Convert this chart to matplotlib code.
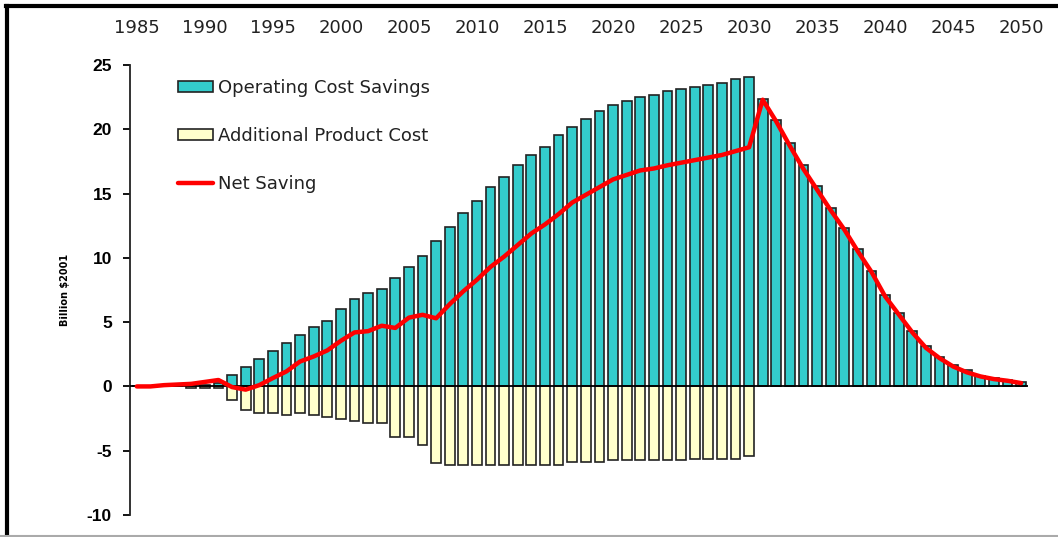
import matplotlib
matplotlib.use('Agg')
import matplotlib.pyplot as plt
from matplotlib.lines import Line2D

plt.rcParams['axes.unicode_minus'] = False

years = list(range(1985, 2051))

# operating cost savings, billion $2001
savings = [0, 0, 0, 0, 0.1, 0.15, 0.3, 0.91, 1.55, 2.15,
           2.77, 3.37, 4.02, 4.61, 5.1, 6.01, 6.79, 7.3, 7.57, 8.47,
           9.28, 10.18, 11.35, 12.4, 13.5, 14.4, 15.5, 16.3, 17.2, 18.0,
           18.65, 19.55, 20.2, 20.8, 21.4, 21.9, 22.2, 22.55, 22.7, 23.0,
           23.13, 23.3, 23.45, 23.6, 23.9, 24.1, 22.35, 20.7, 18.9, 17.2,
           15.6, 13.9, 12.3, 10.7, 9.0, 7.1, 5.7, 4.3, 3.15, 2.3,
           1.7, 1.25, 0.85, 0.62, 0.48, 0.33]

# additional product cost (negative)
prodcost = [0, 0, 0, 0, -0.15, -0.15, -0.15, -1.03, -1.81, -2.07,
            -2.07, -2.25, -2.07, -2.2, -2.38, -2.54, -2.71, -2.85, -2.85, -3.96,
            -3.96, -4.58, -5.96, -6.14, -6.14, -6.14, -6.14, -6.14, -6.14, -6.14,
            -6.14, -6.14, -5.9, -5.9, -5.9, -5.75, -5.75, -5.75, -5.75, -5.75,
            -5.75, -5.62, -5.62, -5.62, -5.62, -5.44, 0, 0, 0, 0,
            0, 0, 0, 0, 0, 0, 0, 0, 0, 0,
            0, 0, 0, 0, 0, 0]

net = [0, 0, 0.1, 0.15, 0.2, 0.35, 0.5, -0.05, -0.25, 0.1,
       0.65, 1.17, 1.94, 2.33, 2.8, 3.55, 4.2, 4.3, 4.72, 4.55,
       5.35, 5.57, 5.3, 6.4, 7.4, 8.3, 9.3, 10.1, 11.0, 11.9,
       12.6, 13.4, 14.3, 14.9, 15.5, 16.1, 16.45, 16.8, 16.95, 17.2,
       17.4, 17.6, 17.8, 18.0, 18.3, 18.6, 22.3, 20.6, 18.7, 16.9,
       15.3, 13.7, 12.2, 10.5, 8.9, 7.0, 5.6, 4.2, 3.0, 2.2,
       1.55, 1.1, 0.78, 0.57, 0.44, 0.26]

xlabels = ['1985', '1990', '1995', '2000', '2005', '2010', '2015',
           '2020', '2025', '2030', '2035', '2040', '2045', '2050']

fig = plt.figure(figsize=(10.58, 5.37), dpi=100)
ax = fig.add_axes([130 / 1058., 1 - 515 / 537., 898 / 1058., 450 / 537.])

b1 = ax.bar(years, savings, width=0.72, color='#33CCCC', edgecolor='#222222',
            linewidth=1.2, label='Operating Cost Savings', zorder=2)
b2 = ax.bar(years, prodcost, width=0.72, color='#FFFFCC', edgecolor='#222222',
            linewidth=1.2, label='Additional Product Cost', zorder=2)
ax.axhline(0, color='black', linewidth=1.3, zorder=3)
l1, = ax.plot(years, net, color='#FF0000', linewidth=3.2, label='Net Saving',
              zorder=4, solid_capstyle='round')

ax.set_xlim(1984.5, 2050.5)
ax.set_ylim(-10, 25)
ax.set_yticks([-10, -5, 0, 5, 10, 15, 20, 25])
ax.set_xticks(list(range(1985, 2051, 5)))
ax.set_xticklabels(xlabels)
ax.xaxis.tick_top()
ax.tick_params(axis='x', length=0, pad=20, labelsize=13, colors='#222222')
ax.tick_params(axis='y', direction='out', length=5, width=1.3, pad=8)
for t in ax.get_yticklabels():
    t.set_fontweight('bold')
    t.set_fontsize(12.5)
    t.set_family('Liberation Sans')

for s in ['top', 'right', 'bottom']:
    ax.spines[s].set_visible(False)
ax.spines['left'].set_linewidth(1.3)
ax.spines['left'].set_color('#222222')

ax.set_ylabel('Billion $2001', fontsize=7, fontweight='bold', labelpad=12)

leg = ax.legend([b1, b2, l1], ['Operating Cost Savings', 'Additional Product Cost', 'Net Saving'],
                loc='upper left', bbox_to_anchor=(0.045, 0.985), frameon=False,
                fontsize=13, handlelength=1.95, handleheight=0.5,
                handletextpad=0.3, labelspacing=1.65, borderaxespad=0)
for t in leg.get_texts():
    t.set_color('#222222')

# outer frame of the original picture
fig.add_artist(Line2D([0.006, 1.0], [0.988, 0.988], color='black', linewidth=3))
fig.add_artist(Line2D([0.0066, 0.0066], [0.0, 0.988], color='black', linewidth=3))
fig.add_artist(Line2D([0.0, 1.0], [0.002, 0.002], color='#aaaaaa', linewidth=1.5))

fig.savefig('out.png', dpi=100)
